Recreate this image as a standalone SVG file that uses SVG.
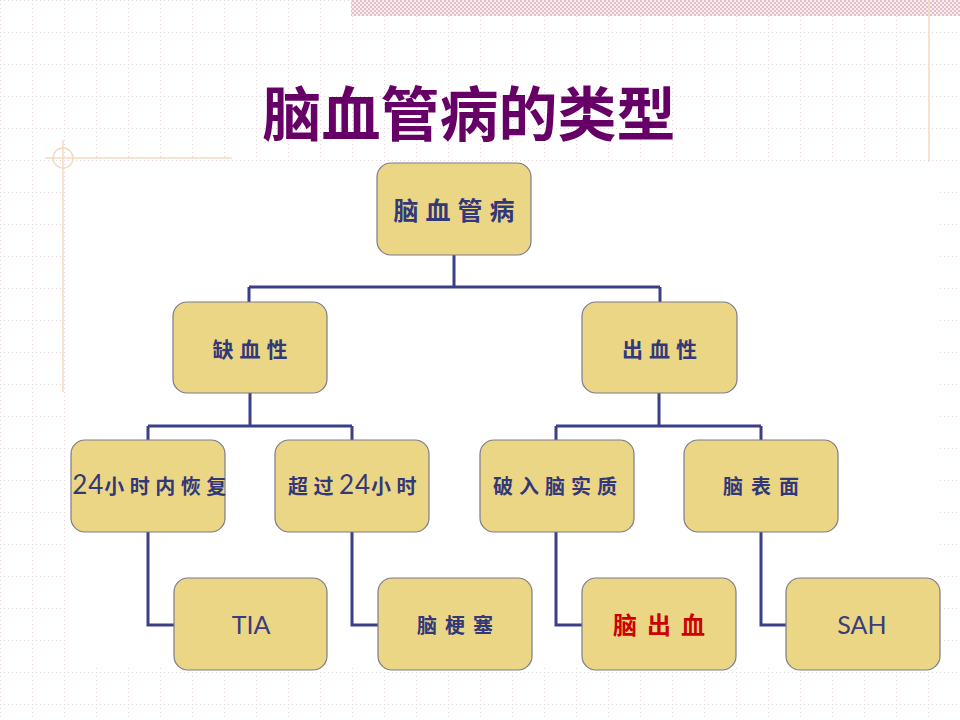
<svg xmlns="http://www.w3.org/2000/svg" width="960" height="720" viewBox="0 0 960 720">
<defs>
<pattern id="grid" x="0" y="0" width="32" height="32" patternUnits="userSpaceOnUse">
<path d="M0.5 0 V32 M0 0.5 H32" stroke="#e2d4d7" stroke-width="1" stroke-dasharray="1 3" fill="none"/>
</pattern>
<pattern id="check" x="0" y="0" width="4" height="4" patternUnits="userSpaceOnUse">
<rect width="4" height="4" fill="#f7ecef"/>
<rect width="2" height="2" fill="#e3bfc9"/>
<rect x="2" y="2" width="2" height="2" fill="#e3bfc9"/>
</pattern>
<style>
.node rect{fill:#ebd686;stroke:#7d7b8c;stroke-width:1.2}
.t{font-family:"Noto Sans CJK SC","Noto Sans",sans-serif;font-weight:bold;fill:#323878;text-anchor:middle}
.lat{font-family:Lato,"Open Sans","Liberation Sans",sans-serif;font-weight:normal;fill:#3a3c7c;text-anchor:middle}
.num{font-family:Lato,"Open Sans",sans-serif;font-weight:normal;font-size:26px}
.conn path{fill:none;stroke:#3a3f86;stroke-width:3}
</style>
</defs>
<rect width="960" height="720" fill="#ffffff"/>
<rect width="960" height="720" fill="url(#grid)"/>
<rect x="66" y="162" width="874" height="506" fill="#ffffff"/>
<rect x="351" y="0" width="609" height="16" fill="url(#check)"/>
<g id="decor" fill="none" stroke="#f2dcc0" stroke-width="1.5">
<line x1="929" y1="0" x2="929" y2="162"/>
<line x1="45" y1="158" x2="232" y2="158"/>
<line x1="63" y1="140" x2="63" y2="392"/>
<circle cx="63" cy="158" r="10"/>
</g>
<text id="title" x="469" y="136" font-family="'Noto Sans CJK SC','Noto Sans',sans-serif" font-weight="bold" font-size="59" fill="#660066" text-anchor="middle">脑血管病的类型</text>
<g class="conn" id="connectors">
<path d="M454 255 V287 M249 287 H660 M249 287 V302 M660 287 V302"/>
<path d="M250 393 V426 M148 426 H352 M148 426 V440 M352 426 V440"/>
<path d="M659 393 V426 M556 426 H761 M556 426 V440 M761 426 V440"/>
<path d="M148 532 V625 H174"/>
<path d="M352 532 V625 H378"/>
<path d="M556 532 V625 H582"/>
<path d="M761 532 V625 H786"/>
</g>
<g class="node" id="root"><rect x="377" y="163" width="154" height="92" rx="14"/><text class="t" x="457.5" y="220" font-size="25" letter-spacing="7">脑血管病</text></g>
<g class="node" id="ischemic"><rect x="173" y="302" width="154" height="91" rx="14"/><text class="t" x="253" y="357" font-size="21" letter-spacing="6">缺血性</text></g>
<g class="node" id="hemorrhagic"><rect x="582" y="302" width="155" height="91" rx="14"/><text class="t" x="662.5" y="357" font-size="21" letter-spacing="6">出血性</text></g>
<g class="node" id="recover24"><rect x="71" y="440" width="154" height="92" rx="14"/><text class="t" x="152" y="494" font-size="20" letter-spacing="5.5"><tspan class="num" letter-spacing="1">24</tspan><tspan letter-spacing="5.5">小时内恢复</tspan></text></g>
<g class="node" id="over24"><rect x="275" y="440" width="154" height="92" rx="14"/><text class="t" x="355" y="494" font-size="20" letter-spacing="5.5">超过<tspan class="num" letter-spacing="1">24</tspan><tspan letter-spacing="5.5">小时</tspan></text></g>
<g class="node" id="parenchyma"><rect x="480" y="440" width="154" height="92" rx="14"/><text class="t" x="558" y="494" font-size="20" letter-spacing="6">破入脑实质</text></g>
<g class="node" id="surface"><rect x="684" y="440" width="154" height="92" rx="14"/><text class="t" x="765" y="494" font-size="20" letter-spacing="8">脑表面</text></g>
<g class="node" id="tia"><rect x="174" y="578" width="153" height="92" rx="14"/><text class="lat" x="251" y="634" font-size="25">TIA</text></g>
<g class="node" id="infarct"><rect x="378" y="578" width="154" height="92" rx="14"/><text class="t" x="459" y="633" font-size="20" letter-spacing="8">脑梗塞</text></g>
<g class="node" id="ich"><rect x="582" y="578" width="154" height="92" rx="14"/><text class="t" x="664" y="634" font-size="24" letter-spacing="10" style="fill:#cc0000">脑出血</text></g>
<g class="node" id="sah"><rect x="786" y="578" width="154" height="92" rx="14"/><text class="lat" x="862" y="634" font-size="25">SAH</text></g>
</svg>
